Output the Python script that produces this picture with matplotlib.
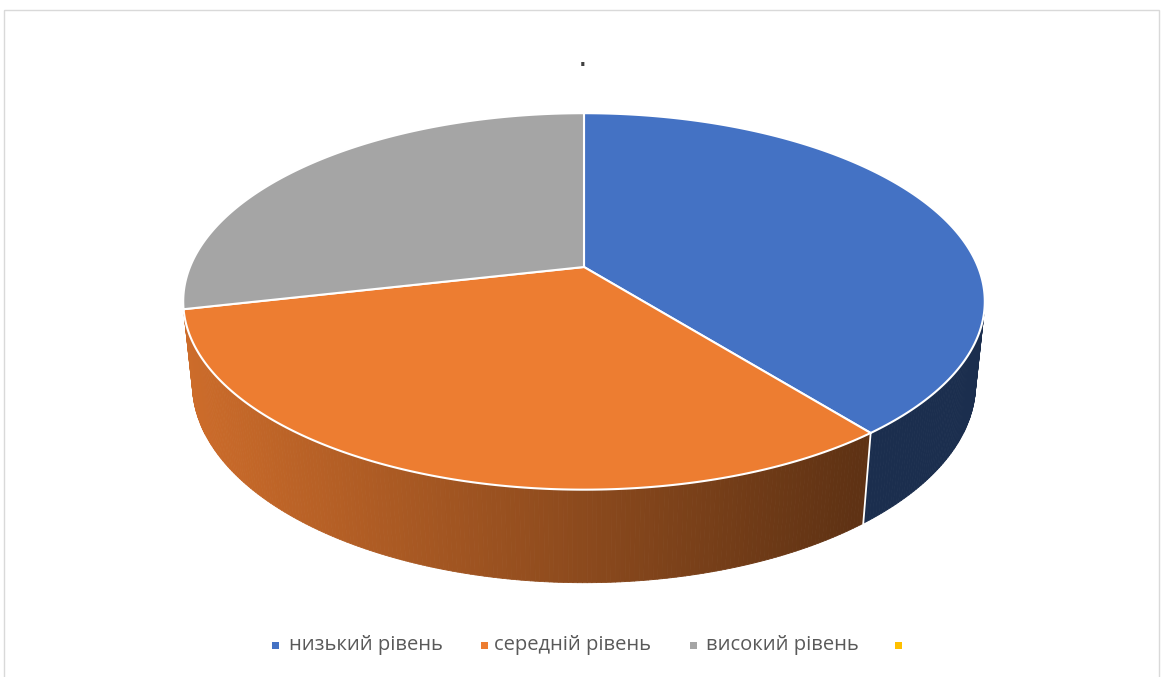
import numpy as np
import matplotlib.pyplot as plt
from matplotlib.patches import Polygon, Rectangle
from matplotlib.collections import PolyCollection

categories = ["низький рівень", "середній рівень", "високий рівень", ""]
values = [11, 9, 8, 0]
colors = ["#4472C4", "#ED7D31", "#A5A5A5", "#FFC000"]
title = "."

# 3d view of the pie (pixel space)
cx, cy = 584, 267
focal = 1911
cam_dist = 4.85
elev = np.radians(27.5)
thick = 0.238


def project(theta, z):
    x3 = np.cos(theta)
    y3 = np.sin(theta)
    depth = cam_dist + y3 * np.cos(elev) - z * np.sin(elev)
    sx = cx + focal * x3 / depth
    sy = cy - focal * (y3 * np.sin(elev) + z * np.cos(elev)) / depth
    return sx, sy


def shade(hex_color, factor):
    rgb = np.array([int(hex_color[i:i + 2], 16) for i in (1, 3, 5)]) / 255
    return tuple(rgb * factor)


fig = plt.figure(figsize=(11.62, 6.77), dpi=100)
ax = fig.add_axes([0, 0, 1, 1])
ax.set_xlim(0, 1162)
ax.set_ylim(677, 0)
ax.axis("off")

ax.add_patch(Rectangle((3.5, 9.5), 1155, 700, fill=False, edgecolor="#D9D9D9", lw=1))

total = sum(values)
angles = [np.pi / 2]
for v in values:
    angles.append(angles[-1] - 2 * np.pi * v / total)

# visible part of the side wall
vis_lo = -np.pi - np.arcsin(-1 / (cam_dist * np.cos(elev)))
vis_hi = np.arcsin(-1 / (cam_dist * np.cos(elev)))

strips, strip_cols = [], []
for i, col in enumerate(colors):
    a_end, a_start = angles[i], angles[i + 1]
    for shift in (0, -2 * np.pi):
        lo = max(a_start + shift, vis_lo)
        hi = min(a_end + shift, vis_hi)
        if hi <= lo:
            continue
        t = np.linspace(lo, hi, max(int((hi - lo) / 0.01), 2))
        for t0, t1 in zip(t[:-1], t[1:]):
            x0, y0 = project(t0, 0)
            x1, y1 = project(t1, 0)
            x2, y2 = project(t1, -thick)
            x3, y3 = project(t0, -thick)
            strips.append([(x0, y0), (x1, y1), (x2, y2), (x3, y3)])
            xm = (x0 + x1) / 2
            f = np.clip(0.86 - 0.46 * (xm - 190) / 670, 0.40, 0.86)
            strip_cols.append(shade(col, f))

ax.add_collection(PolyCollection(strips, facecolors=strip_cols, edgecolors=strip_cols, lw=0.6))

# white line where two slices meet on the wall
for a in angles:
    a2 = (a + np.pi) % (2 * np.pi) - np.pi
    if vis_lo < a2 < vis_hi:
        xa, ya = project(a2, 0)
        xb, yb = project(a2, -thick)
        ax.plot([xa, xb], [ya, yb], color="white", lw=1.3)

# top faces
for i, col in enumerate(colors):
    if values[i] == 0:
        continue
    t = np.linspace(angles[i], angles[i + 1], 300)
    xs, ys = project(t, 0)
    pts = [(cx, cy)] + list(zip(xs, ys))
    ax.add_patch(Polygon(pts, closed=True, facecolor=col, edgecolor="white", lw=1.5, joinstyle="round"))

ax.text(583, 57, title, ha="center", va="center", fontsize=22, color="#404040")

# legend
leg_sq_x = [275, 484, 693, 898]
leg_txt_x = [289, 494, 706, 912]
leg_y = 645
for name, col, sx, tx in zip(categories, colors, leg_sq_x, leg_txt_x):
    ax.add_patch(Rectangle((sx - 3.5, leg_y - 3.5), 7, 7, facecolor=col, edgecolor="none"))
    ax.text(tx, leg_y, name, ha="left", va="center", fontsize=14.5, color="#595959",
            family=["Open Sans", "DejaVu Sans"])

fig.savefig("out.png", dpi=100)
